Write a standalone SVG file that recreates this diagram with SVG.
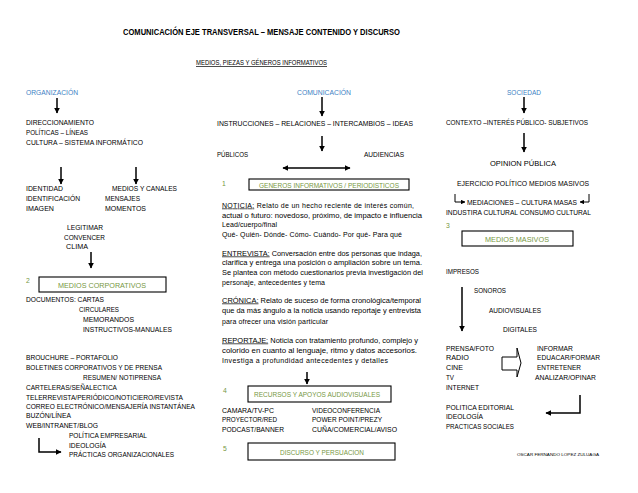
<svg xmlns="http://www.w3.org/2000/svg" width="638" height="493" viewBox="0 0 638 493">
<style>
text{font-family:"Liberation Sans",Arial,sans-serif;font-size:7px;fill:#000}
.t{font-weight:bold;font-size:9.5px}
.b{fill:#3d7fc4}
.g{fill:#77983f}
.s{font-size:6.8px}
.m{font-size:7px}
.u{text-decoration:underline}
.box{fill:none;stroke:#000;stroke-width:1.1}
.ar{fill:none;stroke:#000;stroke-width:1.5}
.th{fill:none;stroke:#000;stroke-width:1}
</style>
<defs>
<marker id="ah" viewBox="0 0 10 10" refX="9" refY="5" markerWidth="6" markerHeight="6" orient="auto-start-reverse" markerUnits="userSpaceOnUse"><path d="M0,0 L10,5 L0,10 z" fill="#000"/></marker>
<marker id="ahs" viewBox="0 0 10 10" refX="9" refY="5" markerWidth="4.5" markerHeight="4.5" orient="auto" markerUnits="userSpaceOnUse"><path d="M0,0 L10,5 L0,10 z" fill="#000"/></marker>
</defs>
<rect width="638" height="493" fill="#fff"/>
<g id="title">
<text class="t" x="123" y="34.5" textLength="277" lengthAdjust="spacingAndGlyphs">COMUNICACIÓN EJE TRANSVERSAL – MENSAJE CONTENIDO Y DISCURSO</text>
<text class="u" x="196" y="65" font-size="7.5" textLength="131" lengthAdjust="spacingAndGlyphs">MEDIOS, PIEZAS Y GÉNEROS INFORMATIVOS</text>
</g>
<g id="connectors">
<path class="ar" d="M57,98 L57,113" marker-end="url(#ah)"/>
<path class="ar" d="M61,167 L61,184" marker-end="url(#ah)"/>
<path class="ar" d="M136,167 L136,184" marker-end="url(#ah)"/>
<path class="ar" d="M91,252 L91,268" marker-end="url(#ah)"/>
<path class="ar" d="M39,438 L39,452 L61,452" marker-end="url(#ah)"/>
<path class="ar" d="M322,97 L322,116" marker-end="url(#ah)"/>
<path class="ar" d="M322,136 L322,151" marker-end="url(#ah)"/>
<path class="ar" d="M283,168 L350,168" marker-start="url(#ah)" marker-end="url(#ah)"/>
<path class="ar" d="M307,372 L307,384" marker-end="url(#ah)"/>
<path class="ar" d="M524,97 L524,113" marker-end="url(#ah)"/>
<path class="ar" d="M524,133 L524,152" marker-end="url(#ah)"/>
<path class="th" d="M455,194 L455,202 L465,202" marker-end="url(#ahs)"/>
<path class="th" d="M589,194 L589,202 L580,202" marker-end="url(#ahs)"/>
<path class="ar" d="M462,287 L462,331" marker-end="url(#ah)"/>
<polygon class="th" points="502,357 517,357 517,348 521,363 517,377 517,370 502,370"/>
<path class="ar" d="M580,395 L580,413 L546,413" marker-end="url(#ah)"/>
</g>
<g id="organizacion">
<text class="b s" x="26" y="94.5" textLength="52" lengthAdjust="spacingAndGlyphs">ORGANIZACIÓN</text>
<text x="26" y="124.5" textLength="68" lengthAdjust="spacingAndGlyphs">DIRECCIONAMIENTO</text>
<text x="26" y="134.5" textLength="62" lengthAdjust="spacingAndGlyphs">POLÍTICAS – LÍNEAS</text>
<text x="26" y="144.5" textLength="117" lengthAdjust="spacingAndGlyphs">CULTURA – SISTEMA INFORMÁTICO</text>
<text x="26" y="190.5" textLength="37" lengthAdjust="spacingAndGlyphs">IDENTIDAD</text>
<text x="112" y="190.5" textLength="65" lengthAdjust="spacingAndGlyphs">MEDIOS  Y CANALES</text>
<text x="26" y="200.5" textLength="54" lengthAdjust="spacingAndGlyphs">IDENTIFICACIÓN</text>
<text x="105" y="200.5" textLength="35" lengthAdjust="spacingAndGlyphs">MENSAJES</text>
<text x="26" y="210.5" textLength="28" lengthAdjust="spacingAndGlyphs">IMAGEN</text>
<text x="105" y="210.5" textLength="41" lengthAdjust="spacingAndGlyphs">MOMENTOS</text>
<text x="67" y="229.5" textLength="36" lengthAdjust="spacingAndGlyphs">LEGITIMAR</text>
<text x="64" y="239.5" textLength="41" lengthAdjust="spacingAndGlyphs">CONVENCER</text>
<text x="66" y="248.5" textLength="22" lengthAdjust="spacingAndGlyphs">CLIMA</text>
</g>
<g id="medios-corporativos">
<text class="g s" x="26" y="283">2</text>
<rect class="box" x="39" y="277" width="127" height="15"/>
<text class="g s" x="102" y="287.5" text-anchor="middle" textLength="88" lengthAdjust="spacingAndGlyphs">MEDIOS CORPORATIVOS</text>
<text x="26" y="301.5" textLength="78" lengthAdjust="spacingAndGlyphs">DOCUMENTOS: CARTAS</text>
<text x="79" y="311.5" textLength="40" lengthAdjust="spacingAndGlyphs">CIRCULARES</text>
<text x="83" y="321.5" textLength="51" lengthAdjust="spacingAndGlyphs">MEMORANDOS</text>
<text x="83" y="331.5" textLength="89" lengthAdjust="spacingAndGlyphs">INSTRUCTIVOS-MANUALES</text>
<text x="26" y="359.5" textLength="92" lengthAdjust="spacingAndGlyphs">BROUCHURE – PORTAFOLIO</text>
<text x="26" y="369.5" textLength="136" lengthAdjust="spacingAndGlyphs">BOLETINES CORPORATIVOS Y  DE PRENSA</text>
<text x="83" y="379.5" textLength="78" lengthAdjust="spacingAndGlyphs">RESUMEN/ NOTIPRENSA</text>
<text x="26" y="389.5" textLength="91" lengthAdjust="spacingAndGlyphs">CARTELERAS/SEÑALECTICA</text>
<text x="26" y="399.5" textLength="157" lengthAdjust="spacingAndGlyphs">TELERREVISTA/PERIÓDICO/NOTICIERO/REVISTA</text>
<text x="26" y="408.5" textLength="169" lengthAdjust="spacingAndGlyphs">CORREO ELECTRÓNICO/MENSAJERÍA INSTANTÁNEA</text>
<text x="26" y="417.5" textLength="45" lengthAdjust="spacingAndGlyphs">BUZÓN/LÍNEA</text>
<text x="26" y="427.5" textLength="72" lengthAdjust="spacingAndGlyphs">WEB/INTRANET/BLOG</text>
<text x="69" y="437.5" textLength="78" lengthAdjust="spacingAndGlyphs">POLÍTICA EMPRESARIAL</text>
<text x="69" y="447.5" textLength="37" lengthAdjust="spacingAndGlyphs">IDEOLOGÍA</text>
<text x="69" y="456.5" textLength="105" lengthAdjust="spacingAndGlyphs">PRÁCTICAS ORGANIZACIONALES</text>
</g>
<g id="comunicacion">
<text class="b s" x="324" y="94.5" text-anchor="middle" textLength="54" lengthAdjust="spacingAndGlyphs">COMUNICACIÓN</text>
<text x="217" y="125.7" font-size="7.5" textLength="196" lengthAdjust="spacingAndGlyphs">INSTRUCCIONES – RELACIONES – INTERCAMBIOS – IDEAS</text>
<text x="217" y="156.5" textLength="31" lengthAdjust="spacingAndGlyphs">PÚBLICOS</text>
<text x="364" y="156.5" textLength="40" lengthAdjust="spacingAndGlyphs">AUDIENCIAS</text>
</g>
<g id="generos">
<text class="g s" x="222" y="186">1</text>
<rect class="box" x="249" y="179" width="160" height="11"/>
<text class="g s" x="329" y="187.5" text-anchor="middle" textLength="140" lengthAdjust="spacingAndGlyphs">GENEROS INFORMATIVOS / PERIODISTICOS</text>
<text class="m" x="222" y="207.5" textLength="192" lengthAdjust="spacing"><tspan class="u">NOTICIA:</tspan> Relato de un hecho reciente de interés común,</text>
<text class="m" x="222" y="217.5" textLength="200" lengthAdjust="spacingAndGlyphs">actual o futuro: novedoso, próximo, de impacto e influencia</text>
<text class="m" x="222" y="226.5" textLength="55" lengthAdjust="spacing">Lead/cuerpo/final</text>
<text class="m" x="222" y="236.5" textLength="180" lengthAdjust="spacing">Qué- Quién- Dónde- Cómo- Cuándo- Por qué- Para qué</text>
<text class="m" x="222" y="255.5" textLength="200" lengthAdjust="spacingAndGlyphs"><tspan class="u">ENTREVISTA:</tspan> Conversación entre dos personas que indaga,</text>
<text class="m" x="222" y="264.5" textLength="200" lengthAdjust="spacingAndGlyphs">clarifica y entrega una posición o ampliación sobre un tema.</text>
<text class="m" x="222" y="274.5" textLength="201" lengthAdjust="spacingAndGlyphs">Se plantea con método cuestionarios previa investigación del</text>
<text class="m" x="222" y="284.5" textLength="103" lengthAdjust="spacing">personaje, antecedentes y tema</text>
<text class="m" x="222" y="302.5" textLength="199" lengthAdjust="spacingAndGlyphs"><tspan class="u">CRÓNICA:</tspan> Relato de suceso de forma cronológica/temporal</text>
<text class="m" x="222" y="312.5" textLength="199" lengthAdjust="spacingAndGlyphs">que da más ángulo a la noticia usando reportaje y entrevista</text>
<text class="m" x="222" y="323.5" textLength="106" lengthAdjust="spacing">para ofrecer una visión particular</text>
<text class="m" x="222" y="342.5" textLength="196" lengthAdjust="spacingAndGlyphs"><tspan class="u">REPORTAJE:</tspan> Noticia con tratamiento profundo, complejo y</text>
<text class="m" x="222" y="352.5" textLength="195" lengthAdjust="spacingAndGlyphs">colorido en cuanto al lenguaje, ritmo y datos accesorios.</text>
<text class="m" x="222" y="362.5" textLength="166" lengthAdjust="spacing">Investiga a profundidad antecedentes y detalles</text>
</g>
<g id="recursos">
<text class="g s" x="223" y="393">4</text>
<rect class="box" x="248" y="386" width="143" height="16"/>
<text class="g s" x="317" y="396.5" text-anchor="middle" textLength="126" lengthAdjust="spacingAndGlyphs">RECURSOS  Y APOYOS AUDIOVISUALES</text>
<text x="222" y="412.5" textLength="52" lengthAdjust="spacingAndGlyphs">CAMARA/TV-PC</text>
<text x="312" y="412.5" textLength="68" lengthAdjust="spacingAndGlyphs">VIDEOCONFERENCIA</text>
<text x="222" y="421.5" textLength="55" lengthAdjust="spacingAndGlyphs">PROYECTOR/RED</text>
<text x="312" y="421.5" textLength="70" lengthAdjust="spacingAndGlyphs">POWER POINT/PREZY</text>
<text x="222" y="431.5" textLength="62" lengthAdjust="spacingAndGlyphs">PODCAST/BANNER</text>
<text x="312" y="431.5" textLength="85" lengthAdjust="spacingAndGlyphs">CUÑA/COMERCIAL/AVISO</text>
</g>
<g id="discurso">
<text class="g s" x="223" y="451">5</text>
<rect class="box" x="248" y="443" width="147" height="17"/>
<text class="g s" x="322" y="454.5" text-anchor="middle" textLength="84" lengthAdjust="spacingAndGlyphs">DISCURSO Y PERSUACION</text>
</g>
<g id="sociedad">
<text class="b s" x="524" y="94.5" text-anchor="middle" textLength="34" lengthAdjust="spacingAndGlyphs">SOCIEDAD</text>
<text x="446" y="124.5" textLength="142" lengthAdjust="spacingAndGlyphs">CONTEXTO  –INTERÉS PÚBLICO- SUBJETIVOS</text>
<text x="523" y="166" font-size="8.3" text-anchor="middle" textLength="66" lengthAdjust="spacingAndGlyphs">OPINION PÚBLICA</text>
<text x="457" y="185.5" textLength="132" lengthAdjust="spacingAndGlyphs">EJERCICIO POLÍTICO   MEDIOS MASIVOS</text>
<text x="467" y="204.5" textLength="110" lengthAdjust="spacingAndGlyphs">MEDIACIONES – CULTURA MASAS</text>
<text x="446" y="214.5" textLength="145" lengthAdjust="spacingAndGlyphs">INDUSTIRA CULTURAL CONSUMO CULTURAL</text>
</g>
<g id="medios-masivos">
<text class="g s" x="446" y="228">3</text>
<rect class="box" x="462" y="231" width="111" height="15"/>
<text class="g s" x="517" y="241.5" text-anchor="middle" textLength="64" lengthAdjust="spacingAndGlyphs">MEDIOS MASIVOS</text>
<text x="446" y="273.5" textLength="33" lengthAdjust="spacingAndGlyphs">IMPRESOS</text>
<text x="474" y="292.5" textLength="32" lengthAdjust="spacingAndGlyphs">SONOROS</text>
<text x="489" y="312.5" textLength="52" lengthAdjust="spacingAndGlyphs">AUDIOVISUALES</text>
<text x="503" y="331.5" textLength="34" lengthAdjust="spacingAndGlyphs">DIGITALES</text>
<text x="446" y="350.5" textLength="48" lengthAdjust="spacingAndGlyphs">PRENSA/FOTO</text>
<text x="537" y="350.5" textLength="36" lengthAdjust="spacingAndGlyphs">INFORMAR</text>
<text x="446" y="359.5" textLength="23" lengthAdjust="spacingAndGlyphs">RADIO</text>
<text x="537" y="359.5" textLength="63" lengthAdjust="spacingAndGlyphs">EDUACAR/FORMAR</text>
<text x="446" y="369.5" textLength="17" lengthAdjust="spacingAndGlyphs">CINE</text>
<text x="537" y="369.5" textLength="44" lengthAdjust="spacingAndGlyphs">ENTRETENER</text>
<text x="446" y="379.5" textLength="8" lengthAdjust="spacingAndGlyphs">TV</text>
<text x="535" y="379.5" textLength="61" lengthAdjust="spacingAndGlyphs">ANALIZAR/OPINAR</text>
<text x="446" y="389.5" textLength="33" lengthAdjust="spacingAndGlyphs">INTERNET</text>
<text x="446" y="409.5" textLength="68" lengthAdjust="spacingAndGlyphs">POLITICA EDITORIAL</text>
<text x="446" y="418.5" textLength="37" lengthAdjust="spacingAndGlyphs">IDEOLOGÍA</text>
<text x="446" y="428.5" textLength="68" lengthAdjust="spacingAndGlyphs">PRACTICAS SOCIALES</text>
<text transform="translate(517,455.5) scale(0.5)" font-size="11" textLength="164" lengthAdjust="spacingAndGlyphs">OSCAR FERNANDO LOPEZ ZULUAGA</text>
</g>
</svg>
